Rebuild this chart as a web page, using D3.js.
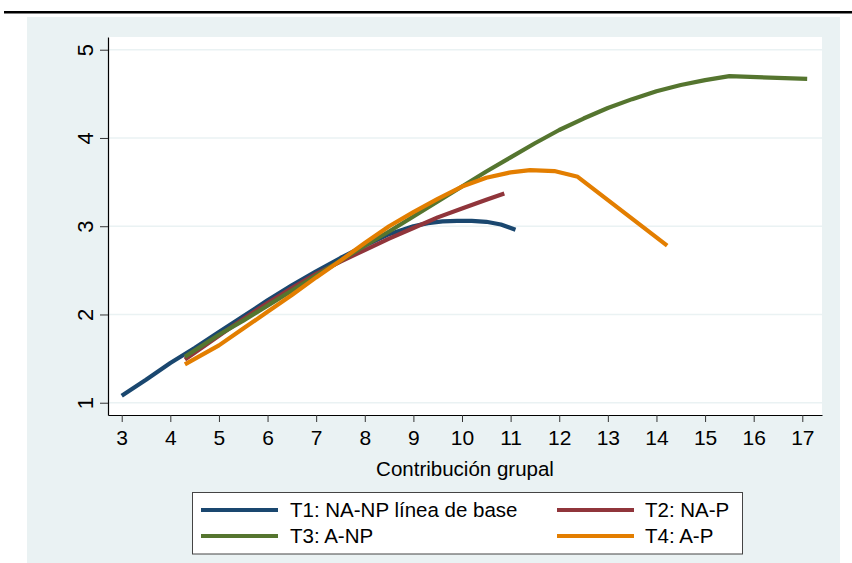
<!DOCTYPE html>
<html>
<head>
<meta charset="utf-8">
<script src="https://cdn.jsdelivr.net/npm/d3@7"></script>
<style>
  body { margin: 0; background: #fff; }
  svg { display: block; font-family: "Liberation Sans", Arial, sans-serif; }
</style>
</head>
<body>
<div id="chart"></div>
<script>
// Data
const xTicks = [3, 4, 5, 6, 7, 8, 9, 10, 11, 12, 13, 14, 15, 16, 17];
const yTicks = [1, 2, 3, 4, 5];
const seriesNames = ['T1: NA-NP línea de base', 'T2: NA-P', 'T3: A-NP', 'T4: A-P'];

const t1X = [3, 3.5, 4, 4.5, 5, 5.5, 6, 6.5, 7, 7.5, 8, 8.5, 9, 9.3, 9.6, 9.9, 10.2, 10.5, 10.8, 11.1];
const t1Y = [1.08, 1.26, 1.45, 1.62, 1.80, 1.98, 2.16, 2.33, 2.49, 2.64, 2.78, 2.91, 3.0, 3.035, 3.055, 3.06, 3.06, 3.05, 3.02, 2.96];

const t2X = [4.3, 5, 5.5, 6, 6.5, 7, 7.5, 8, 8.5, 9, 9.5, 10, 10.5, 10.87];
const t2Y = [1.49, 1.76, 1.95, 2.13, 2.30, 2.46, 2.60, 2.73, 2.86, 2.98, 3.10, 3.20, 3.30, 3.37];

const t3X = [4.3, 5, 5.5, 6, 6.5, 7, 7.5, 8, 8.5, 9, 9.5, 10, 10.5, 11, 11.5, 12, 12.5, 13, 13.5, 14, 14.5, 15, 15.5, 17.1];
const t3Y = [1.52, 1.77, 1.93, 2.10, 2.27, 2.44, 2.61, 2.78, 2.94, 3.11, 3.28, 3.45, 3.62, 3.78, 3.94, 4.09, 4.22, 4.34, 4.44, 4.53, 4.60, 4.655, 4.70, 4.67];

const t4X = [4.3, 5, 5.5, 6, 6.5, 7, 7.5, 8, 8.5, 9, 9.5, 10, 10.5, 11, 11.4, 11.9, 12.38, 14.22];
const t4Y = [1.435, 1.65, 1.84, 2.03, 2.22, 2.42, 2.61, 2.81, 3.0, 3.16, 3.31, 3.45, 3.55, 3.61, 3.635, 3.625, 3.56, 2.78];

const colors = ['#1a476f', '#90353b', '#55752f', '#e37e00'];

const series = [[t1X, t1Y], [t2X, t2Y], [t3X, t3Y], [t4X, t4Y]]
    .map(([xs, ys]) => xs.map((x, i) => ({ x: x, y: ys[i] })));

const width = 852;
const height = 563;
const plot = { left: 108, right: 822, top: 37, bottom: 415 };

// Scales
const x_scale = d3.scaleLinear()
    .domain([2.718, 17.405])
    .range([plot.left, plot.right]);

const y_scale = d3.scaleLinear()
    .domain([0.861, 5.144])
    .range([plot.bottom, plot.top]);

// SVG
const svg = d3.select('#chart')
    .append('svg')
    .attr('width', width)
    .attr('height', height);

svg.append('rect')
    .attr('width', width).attr('height', height)
    .attr('fill', '#fff');

// top rule
svg.append('rect')
    .attr('x', 4).attr('y', 11)
    .attr('width', width - 4).attr('height', 2.5)
    .attr('fill', '#000');

// graph region background
svg.append('rect')
    .attr('x', 27).attr('y', 17)
    .attr('width', 813).attr('height', height - 17)
    .attr('fill', '#eaf2f3');

// plot region
svg.append('rect')
    .attr('x', plot.left).attr('y', plot.top)
    .attr('width', plot.right - plot.left).attr('height', plot.bottom - plot.top)
    .attr('fill', '#fff');

// gridlines
svg.append('g')
    .selectAll('line')
    .data(yTicks)
    .enter()
    .append('line')
    .attr('x1', plot.left).attr('x2', plot.right)
    .attr('y1', d => y_scale(d)).attr('y2', d => y_scale(d))
    .attr('stroke', '#eaf2f3')
    .attr('stroke-width', 1.5);

// Axes
const xAxis = svg.append('g')
    .attr('transform', `translate(0,${plot.bottom})`)
    .call(d3.axisBottom(x_scale).tickValues(xTicks).tickFormat(d3.format('d'))
        .tickSize(7).tickSizeOuter(0));

const yAxis = svg.append('g')
    .attr('transform', `translate(${plot.left},0)`)
    .call(d3.axisLeft(y_scale).tickValues(yTicks).tickFormat(d3.format('d'))
        .tickSize(8).tickSizeOuter(0));

[xAxis, yAxis].forEach(a => {
    a.select('.domain').attr('stroke', '#000').attr('stroke-width', 1.2);
    a.selectAll('.tick line').attr('stroke', '#333').attr('stroke-width', 1);
    a.selectAll('text')
        .attr('fill', '#000')
        .attr('font-family', '"Liberation Sans", Arial, sans-serif')
        .attr('font-size', 21);
});

xAxis.selectAll('.tick text')
    .attr('dy', null)
    .attr('y', 30);

yAxis.selectAll('.tick text')
    .attr('x', null).attr('dy', null)
    .attr('text-anchor', 'middle')
    .attr('font-size', 22)
    .attr('transform', 'translate(-15.5,0) rotate(-90)');

// axis title
svg.append('text')
    .attr('x', (plot.left + plot.right) / 2)
    .attr('y', 476)
    .attr('text-anchor', 'middle')
    .attr('font-size', 20.5)
    .text('Contribución grupal');

// Lines (Stata connects the fitted points with straight segments)
const line = d3.line()
    .x(d => x_scale(d.x))
    .y(d => y_scale(d.y));

svg.append('g')
    .selectAll('path')
    .data(series)
    .enter()
    .append('path')
    .attr('d', line)
    .attr('fill', 'none')
    .attr('stroke', (d, i) => colors[i])
    .attr('stroke-width', 4.2)
    .attr('stroke-linejoin', 'round');

// Legend
const legend = svg.append('g');
legend.append('rect')
    .attr('x', 192.5).attr('y', 492.5)
    .attr('width', 550).attr('height', 61.5)
    .attr('fill', '#fff')
    .attr('stroke', '#444')
    .attr('stroke-width', 1);

const legendPos = [
    { lx: 201, tx: 290, y: 510 },
    { lx: 557, tx: 645, y: 510 },
    { lx: 201, tx: 290, y: 536 },
    { lx: 557, tx: 645, y: 536 }
];

const items = legend.selectAll('g.item')
    .data(seriesNames)
    .enter()
    .append('g')
    .attr('class', 'item');

items.append('line')
    .attr('x1', (d, i) => legendPos[i].lx)
    .attr('x2', (d, i) => legendPos[i].lx + 77)
    .attr('y1', (d, i) => legendPos[i].y)
    .attr('y2', (d, i) => legendPos[i].y)
    .attr('stroke', (d, i) => colors[i])
    .attr('stroke-width', 4);

items.append('text')
    .attr('x', (d, i) => legendPos[i].tx)
    .attr('y', (d, i) => legendPos[i].y + 7)
    .attr('font-size', 20.5)
    .text(d => d);
</script>
</body>
</html>
